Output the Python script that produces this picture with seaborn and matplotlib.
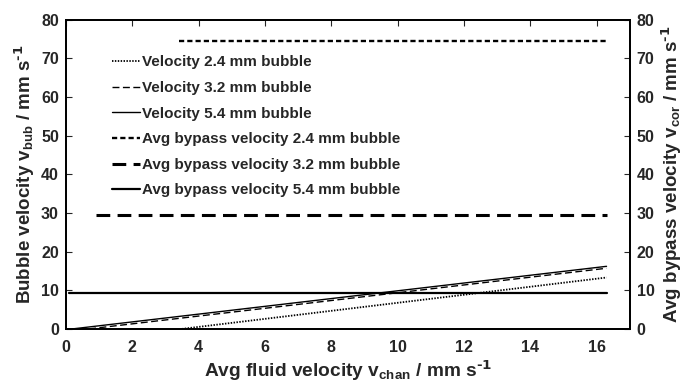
import matplotlib
matplotlib.use("Agg")
import matplotlib.pyplot as plt
import seaborn as sns
import pandas as pd

# Data
vel_x = {
    "Velocity 2.4 mm bubble": [3.5, 16.3],
    "Velocity 3.2 mm bubble": [0.7, 16.3],
    "Velocity 5.4 mm bubble": [0.2, 16.3],
}
vel_y = {
    "Velocity 2.4 mm bubble": [0.0, 13.3],
    "Velocity 3.2 mm bubble": [0.0, 15.7],
    "Velocity 5.4 mm bubble": [0.0, 16.2],
}
byp_x = {
    "Avg bypass velocity 2.4 mm bubble": [3.4, 16.3],
    "Avg bypass velocity 3.2 mm bubble": [0.9, 16.3],
    "Avg bypass velocity 5.4 mm bubble": [0.1, 16.3],
}
byp_y = {
    "Avg bypass velocity 2.4 mm bubble": [74.5, 74.5],
    "Avg bypass velocity 3.2 mm bubble": [29.5, 29.5],
    "Avg bypass velocity 5.4 mm bubble": [9.3, 9.3],
}
x_ticks = [0, 2, 4, 6, 8, 10, 12, 14, 16]
y_ticks = [0, 10, 20, 30, 40, 50, 60, 70, 80]

sns.set_style("white")
plt.rcParams["font.family"] = ["Liberation Sans", "DejaVu Sans"]
plt.rcParams["font.weight"] = "bold"
plt.rcParams["mathtext.default"] = "regular"

styles = {
    "Velocity 2.4 mm bubble": dict(lw=1.3, dashes=(0.8, 0.8)),
    "Velocity 3.2 mm bubble": dict(lw=1.0, dashes=(5, 2.5)),
    "Velocity 5.4 mm bubble": dict(lw=1.0, dashes=(None, None)),
    "Avg bypass velocity 2.4 mm bubble": dict(lw=1.7, dashes=(2.2, 1.3)),
    "Avg bypass velocity 3.2 mm bubble": dict(lw=2.2, dashes=(4.5, 2.4)),
    "Avg bypass velocity 5.4 mm bubble": dict(lw=1.6, dashes=(None, None)),
}

fig = plt.figure(figsize=(6.86, 3.82), dpi=100)
ax = fig.add_axes([0.096, 0.139, 0.822, 0.809])

handles = []
for name in vel_x:
    df = pd.DataFrame({"x": vel_x[name], "y": vel_y[name]})
    st = styles[name]
    sns.lineplot(data=df, x="x", y="y", ax=ax, color="black", lw=st["lw"], label=name)
    line = ax.lines[-1]
    if st["dashes"][0] is not None:
        line.set_dashes(st["dashes"])
    handles.append(line)

ax2 = ax.twinx()
for name in byp_x:
    df = pd.DataFrame({"x": byp_x[name], "y": byp_y[name]})
    st = styles[name]
    sns.lineplot(data=df, x="x", y="y", ax=ax2, color="black", lw=st["lw"], label=name, legend=False)
    line = ax2.lines[-1]
    if st["dashes"][0] is not None:
        line.set_dashes(st["dashes"])
    handles.append(line)

for a in (ax, ax2):
    a.set_xlim(0, 17)
    a.set_ylim(0, 80)
    for s in a.spines.values():
        s.set_linewidth(1.3)
        s.set_color("black")

ax.set_xticks(x_ticks)
ax.set_yticks(y_ticks)
ax2.set_yticks(y_ticks)
ax.tick_params(axis="x", direction="in", top=True, length=4, width=0.8, labelsize=11.5, pad=8)
ax.tick_params(axis="y", direction="in", length=4, width=0.8, labelsize=11.5, pad=5, left=True)
ax2.tick_params(axis="y", direction="in", length=4, width=0.8, labelsize=11.5, pad=5, right=True)
for a in (ax, ax2):
    for lab in a.get_xticklabels() + a.get_yticklabels():
        lab.set_fontweight("bold")

ax.set_xlabel(r"Avg fluid velocity v$_{chan}$ / mm s$^{\text{-1}}$", fontsize=13.8, fontweight="bold", labelpad=2)
ax.set_ylabel(r"Bubble velocity v$_{bub}$ / mm s$^{\text{-1}}$", fontsize=13.5, fontweight="bold", labelpad=3)
ax2.set_ylabel(r"Avg bypass velocity v$_{cor}$ / mm s$^{\text{-1}}$", fontsize=13.5, fontweight="bold", labelpad=3)

if ax.get_legend() is not None:
    ax.get_legend().remove()
leg = ax2.legend(handles=handles, labels=list(vel_x) + list(byp_x),
                 loc="upper left", bbox_to_anchor=(0.082, 0.885), frameon=False,
                 handlelength=1.85, handletextpad=0.1, labelspacing=0.76,
                 prop={"weight": "bold", "size": 11}, borderaxespad=0, borderpad=0)

fig.savefig("out.png", dpi=100)
